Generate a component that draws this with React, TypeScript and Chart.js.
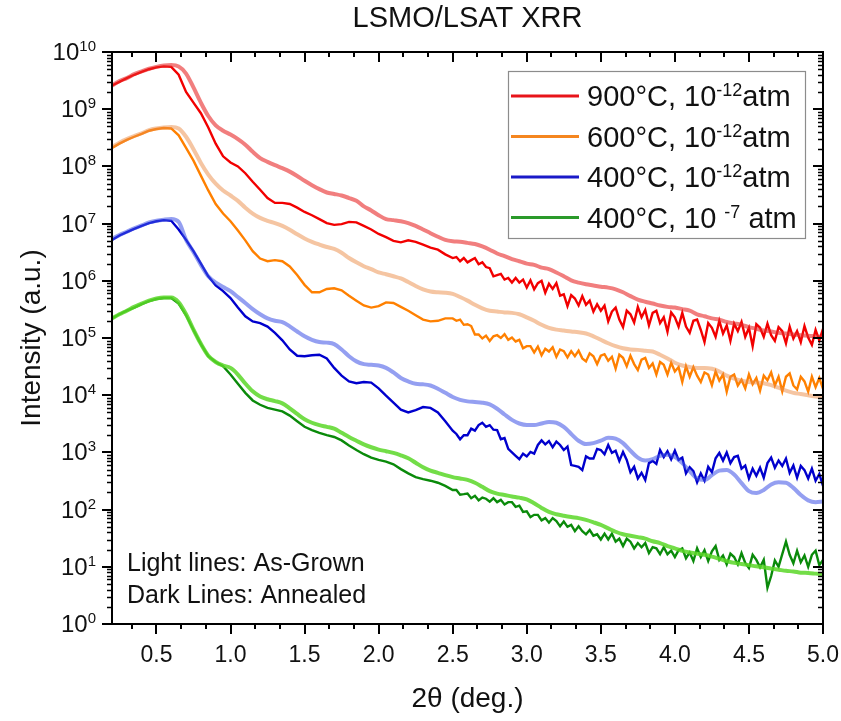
import React, { useEffect, useRef } from "react";
import { Chart, registerables } from "chart.js";

Chart.register(...registerables);

// ---------- DATA ----------
// 2θ (deg.) sampling of the as-grown (light) curves
const THETA_AG = [
  0.2, 0.25, 0.3, 0.35, 0.4, 0.45, 0.5, 0.55, 0.6, 0.65,
  0.7, 0.75, 0.8, 0.85, 0.9, 0.95, 1.0, 1.05, 1.1, 1.15,
  1.2, 1.25, 1.3, 1.35, 1.4, 1.45, 1.5, 1.55, 1.6, 1.65,
  1.7, 1.75, 1.8, 1.85, 1.9, 1.95, 2.0, 2.05, 2.1, 2.15,
  2.2, 2.25, 2.3, 2.35, 2.4, 2.45, 2.5, 2.55, 2.6, 2.65,
  2.7, 2.75, 2.8, 2.85, 2.9, 2.95, 3.0, 3.05, 3.1, 3.15,
  3.2, 3.25, 3.3, 3.35, 3.4, 3.45, 3.5, 3.55, 3.6, 3.65,
  3.7, 3.75, 3.8, 3.85, 3.9, 3.95, 4.0, 4.05, 4.1, 4.15,
  4.2, 4.25, 4.3, 4.35, 4.4, 4.45, 4.5, 4.55, 4.6, 4.65,
  4.7, 4.75, 4.8, 4.85, 4.9, 4.95, 5.0,
];

// 2θ (deg.) sampling of the annealed (dark) curves
const THETA_AN = [
  0.2, 0.25, 0.3, 0.35, 0.4, 0.45, 0.5, 0.55, 0.6, 0.65,
  0.7, 0.75, 0.8, 0.85, 0.9, 0.95, 1.0, 1.05, 1.1, 1.15,
  1.2, 1.25, 1.3, 1.35, 1.4, 1.45, 1.5, 1.55, 1.6, 1.65,
  1.7, 1.75, 1.8, 1.85, 1.9, 1.95, 2.0, 2.05, 2.1, 2.15,
  2.2, 2.25, 2.3, 2.35, 2.4, 2.45, 2.5,
  2.525, 2.55, 2.575, 2.6, 2.625, 2.65, 2.675, 2.7, 2.725, 2.75,
  2.775, 2.8, 2.825, 2.85, 2.875, 2.9, 2.925, 2.95, 2.975, 3.0,
  3.025, 3.05, 3.075, 3.1, 3.125, 3.15, 3.175, 3.2, 3.225, 3.25,
  3.275, 3.3, 3.325, 3.35, 3.375, 3.4, 3.425, 3.45, 3.475, 3.5,
  3.525, 3.55, 3.575, 3.6, 3.625, 3.65, 3.675, 3.7, 3.725, 3.75,
  3.775, 3.8, 3.825, 3.85, 3.875, 3.9, 3.925, 3.95, 3.975, 4.0,
  4.025, 4.05, 4.075, 4.1, 4.125, 4.15, 4.175, 4.2, 4.225, 4.25,
  4.275, 4.3, 4.325, 4.35, 4.375, 4.4, 4.425, 4.45, 4.475, 4.5,
  4.525, 4.55, 4.575, 4.6, 4.625, 4.65, 4.675, 4.7, 4.725, 4.75,
  4.775, 4.8, 4.825, 4.85, 4.875, 4.9, 4.925, 4.95, 4.975, 5.0,
];

// As-grown (light lines)
const AG_900C_12 = [
  2.6e9, 3.1e9, 3.5e9, 4.1e9, 4.6e9, 5.1e9, 5.5e9, 5.8e9, 5.9e9, 5.6e9,
  4.2e9, 2.4e9, 1.3e9, 7.6e8, 5.2e8, 4.2e8, 3.6e8, 3.0e8, 2.4e8, 1.8e8,
  1.4e8, 1.2e8, 1.05e8, 9.3e7, 8.1e7, 6.8e7, 5.6e7, 4.7e7, 4.0e7, 3.5e7,
  3.3e7, 3.1e7, 2.8e7, 2.5e7, 2.0e7, 1.7e7, 1.4e7, 1.2e7, 1.15e7, 1.1e7,
  1.02e7, 9.1e6, 7.9e6, 6.8e6, 5.9e6, 5.2e6, 4.9e6, 4.8e6, 4.6e6, 4.4e6,
  4.0e6, 3.5e6, 3.0e6, 2.7e6, 2.4e6, 2.2e6, 2.0e6, 1.9e6, 1.7e6, 1.6e6,
  1.4e6, 1.2e6, 1.02e6, 9.3e5, 8.7e5, 8.3e5, 7.9e5, 7.6e5, 7.1e5, 6.3e5,
  5.4e5, 4.7e5, 4.3e5, 4.0e5, 3.7e5, 3.5e5, 3.4e5, 3.2e5, 3.0e5, 2.6e5,
  2.4e5, 2.2e5, 2.1e5, 1.9e5, 1.8e5, 1.7e5, 1.55e5, 1.45e5, 1.35e5, 1.3e5,
  1.23e5, 1.2e5, 1.15e5, 1.12e5, 1.1e5, 1.07e5, 1.05e5,
];
const AG_600C_12 = [
  2.2e8, 2.6e8, 3.0e8, 3.4e8, 3.8e8, 4.3e8, 4.6e8, 4.8e8, 4.9e8, 4.6e8,
  3.3e8, 2.0e8, 1.15e8, 7.2e7, 5.0e7, 3.8e7, 3.1e7, 2.5e7, 1.9e7, 1.5e7,
  1.26e7, 1.12e7, 1.02e7, 9.1e6, 7.8e6, 6.5e6, 5.5e6, 4.8e6, 4.3e6, 3.9e6,
  3.6e6, 3.1e6, 2.5e6, 2.1e6, 1.8e6, 1.6e6, 1.4e6, 1.3e6, 1.2e6, 1.1e6,
  9.5e5, 8.1e5, 7.1e5, 6.5e5, 6.3e5, 6.2e5, 5.9e5, 5.2e5, 4.5e5, 3.8e5,
  3.3e5, 3.0e5, 2.9e5, 2.8e5, 2.75e5, 2.6e5, 2.3e5, 2.0e5, 1.7e5, 1.5e5,
  1.4e5, 1.35e5, 1.3e5, 1.26e5, 1.2e5, 1.07e5, 9.3e4, 8.1e4, 7.2e4, 6.6e4,
  6.3e4, 6.2e4, 6.0e4, 5.8e4, 5.1e4, 4.4e4, 3.7e4, 3.3e4, 3.1e4, 3.0e4,
  3.0e4, 2.9e4, 2.6e4, 2.2e4, 1.95e4, 1.8e4, 1.7e4, 1.66e4, 1.62e4, 1.5e4,
  1.35e4, 1.2e4, 1.1e4, 1.05e4, 1.0e4, 9.5e3, 9.3e3,
];
const AG_400C_12 = [
  5.4e6, 6.3e6, 7.2e6, 8.3e6, 9.3e6, 1.05e7, 1.12e7, 1.17e7, 1.2e7, 1.07e7,
  5.2e6, 3.2e6, 1.9e6, 1.2e6, 9.3e5, 7.8e5, 6.6e5, 5.2e5, 4.1e5, 3.2e5,
  2.6e5, 2.2e5, 2.0e5, 1.9e5, 1.6e5, 1.3e5, 1.07e5, 9.3e4, 8.5e4, 8.3e4,
  7.8e4, 6.3e4, 4.8e4, 3.9e4, 3.5e4, 3.4e4, 3.3e4, 3.0e4, 2.5e4, 2.0e4,
  1.74e4, 1.58e4, 1.55e4, 1.48e4, 1.3e4, 1.1e4, 9.3e3, 8.3e3, 7.8e3, 7.6e3,
  7.4e3, 6.9e3, 5.8e3, 4.6e3, 3.7e3, 3.2e3, 3.0e3, 3.0e3, 3.2e3, 3.4e3,
  3.3e3, 2.8e3, 2.1e3, 1.6e3, 1.4e3, 1.45e3, 1.6e3, 1.8e3, 1.74e3, 1.45e3,
  1.07e3, 8.1e2, 7.2e2, 7.6e2, 8.7e2, 9.1e2, 8.3e2, 6.5e2, 4.7e2, 3.5e2,
  3.3e2, 4.0e2, 4.8e2, 4.9e2, 4.1e2, 2.9e2, 2.1e2, 1.95e2, 2.2e2, 2.75e2,
  3.0e2, 2.95e2, 2.4e2, 1.8e2, 1.45e2, 1.35e2, 1.38e2,
];
const AG_400C_7 = [
  2.2e5, 2.6e5, 3.0e5, 3.5e5, 4.0e5, 4.5e5, 4.9e5, 5.1e5, 5.1e5, 4.2e5,
  2.6e5, 1.4e5, 7.9e4, 4.9e4, 3.8e4, 3.3e4, 3.0e4, 2.3e4, 1.6e4, 1.17e4,
  9.5e3, 8.5e3, 7.9e3, 7.2e3, 5.9e3, 4.7e3, 3.8e3, 3.3e3, 3.0e3, 2.8e3,
  2.6e3, 2.2e3, 1.86e3, 1.6e3, 1.38e3, 1.23e3, 1.12e3, 1.05e3, 9.8e2, 8.9e2,
  7.9e2, 6.6e2, 5.5e2, 4.8e2, 4.4e2, 4.0e2, 3.7e2, 3.5e2, 3.3e2, 2.95e2,
  2.5e2, 2.1e2, 1.9e2, 1.8e2, 1.7e2, 1.62e2, 1.51e2, 1.29e2, 1.07e2, 9.1e1,
  8.3e1, 7.8e1, 7.4e1, 7.1e1, 6.6e1, 6.0e1, 5.4e1, 4.7e1, 4.1e1, 3.7e1,
  3.5e1, 3.3e1, 3.1e1, 2.8e1, 2.6e1, 2.3e1, 2.1e1, 1.9e1, 1.78e1, 1.7e1,
  1.62e1, 1.51e1, 1.38e1, 1.26e1, 1.17e1, 1.12e1, 1.07e1, 1.02e1, 9.8, 9.3,
  8.9, 8.5, 8.3, 7.9, 7.8, 7.6, 7.4,
];

// Annealed (dark lines)
const AN_900C_12 = [
  2.6e9, 3.0e9, 3.5e9, 4.0e9, 4.5e9, 5.0e9, 5.4e9, 5.6e9, 5.5e9, 4.0e9,
  2.0e9, 1.3e9, 8.5e8, 4.8e8, 2.5e8, 1.5e8, 1.17e8, 1.0e8, 7.6e7, 5.4e7,
  3.9e7, 2.8e7, 2.3e7, 2.3e7, 2.2e7, 1.9e7, 1.6e7, 1.4e7, 1.2e7, 1.02e7,
  9.5e6, 9.8e6, 1.07e7, 1.05e7, 9.1e6, 7.9e6, 6.6e6, 5.8e6, 5.0e6, 4.7e6,
  5.1e6, 4.8e6, 4.3e6, 3.8e6, 3.5e6, 2.9e6, 2.5e6,
  2.6e6, 2.2e6, 2.5e6, 2.1e6, 2.3e6, 2.5e6, 1.95e6, 2.1e6, 1.74e6, 1.66e6,
  1.2e6, 1.26e6, 1.32e6, 1.05e6, 1.12e6, 9.3e5, 1.12e6, 9.3e5, 1.05e6, 7.6e5,
  1.02e6, 7.1e5, 9.1e5, 1.0e6, 6.2e5, 8.9e5, 7.2e5, 9.1e5, 5.5e5, 5.8e5,
  3.6e5, 5.6e5, 4.9e5, 3.7e5, 5.4e5, 3.8e5, 4.5e5, 2.9e5, 3.9e5, 3.0e5,
  3.7e5, 1.95e5, 2.9e5, 3.4e5, 2.1e5, 1.55e5, 3.0e5, 2.6e5, 1.86e5, 3.5e5,
  2.3e5, 3.1e5, 1.66e5, 2.75e5, 3.0e5, 1.82e5, 2.3e5, 1.29e5, 2.8e5, 2.3e5,
  1.58e5, 2.75e5, 1.58e5, 1.23e5, 2.0e5, 2.1e5, 1.38e5, 8.5e4, 1.82e5, 1.51e5,
  1.05e5, 2.0e5, 1.2e5, 1.66e5, 8.9e4, 1.78e5, 1.32e5, 1.91e5, 1.05e5, 1.51e5,
  7.2e4, 1.74e5, 1.51e5, 1.05e5, 1.78e5, 1.12e5, 8.9e4, 1.55e5, 1.32e5, 8.1e4,
  1.58e5, 9.8e4, 1.32e5, 8.5e4, 1.62e5, 1.02e5, 7.6e4, 1.38e5, 9.1e4, 1.45e5,
];
const AN_600C_12 = [
  2.1e8, 2.5e8, 2.9e8, 3.3e8, 3.7e8, 4.2e8, 4.5e8, 4.7e8, 4.6e8, 3.5e8,
  2.1e8, 1.26e8, 6.9e7, 3.8e7, 2.2e7, 1.5e7, 1.1e7, 7.6e6, 5.1e6, 3.3e6,
  2.45e6, 2.2e6, 2.3e6, 2.2e6, 1.78e6, 1.26e6, 8.5e5, 6.3e5, 6.3e5, 7.2e5,
  7.4e5, 6.8e5, 5.5e5, 4.5e5, 3.7e5, 3.4e5, 3.6e5, 4.2e5, 4.1e5, 3.5e5,
  3.0e5, 2.5e5, 2.1e5, 1.95e5, 2.0e5, 2.2e5, 2.2e5,
  2.0e5, 2.1e5, 1.7e5, 1.74e5, 1.62e5, 1.15e5, 1.15e5, 9.8e4, 1.1e5, 8.9e4,
  1.07e5, 1.12e5, 1.0e5, 1.17e5, 9.3e4, 1.02e5, 8.7e4, 9.3e4, 6.6e4, 7.2e4,
  7.2e4, 5.6e4, 7.1e4, 5.0e4, 6.5e4, 5.8e4, 6.9e4, 4.7e4, 6.3e4, 5.9e4,
  4.6e4, 5.9e4, 4.8e4, 6.0e4, 4.4e4, 3.9e4, 5.4e4, 4.8e4, 3.5e4, 4.9e4,
  5.2e4, 4.0e4, 4.7e4, 2.9e4, 5.1e4, 4.5e4, 3.2e4, 4.9e4, 3.5e4, 2.75e4,
  4.2e4, 4.5e4, 3.0e4, 3.6e4, 2.3e4, 3.8e4, 3.4e4, 2.3e4, 3.7e4, 2.6e4,
  3.1e4, 1.7e4, 3.2e4, 2.1e4, 3.1e4, 2.2e4, 1.7e4, 2.5e4, 2.3e4, 1.5e4,
  2.6e4, 1.8e4, 2.3e4, 1.15e4, 2.1e4, 2.3e4, 1.48e4, 1.86e4, 1.32e4, 2.3e4,
  1.55e4, 2.0e4, 1.2e4, 2.2e4, 1.82e4, 2.5e4, 1.48e4, 2.1e4, 1.17e4, 2.1e4,
  2.4e4, 1.48e4, 1.26e4, 2.1e4, 1.74e4, 1.15e4, 2.1e4, 1.38e4, 2.0e4, 1.29e4,
];
const AN_400C_12 = [
  5.2e6, 6.2e6, 7.1e6, 8.1e6, 9.1e6, 1.02e7, 1.1e7, 1.15e7, 1.12e7, 7.9e6,
  5.2e6, 3.3e6, 2.0e6, 1.2e6, 8.3e5, 6.6e5, 5.0e5, 3.4e5, 2.4e5, 1.95e5,
  1.82e5, 1.58e5, 1.23e5, 9.1e4, 6.3e4, 4.9e4, 4.8e4, 5.0e4, 5.1e4, 4.4e4,
  3.0e4, 2.2e4, 1.74e4, 1.62e4, 1.7e4, 1.66e4, 1.32e4, 9.8e3, 7.4e3, 5.6e3,
  5.0e3, 5.5e3, 6.2e3, 6.0e3, 5.0e3, 3.5e3, 2.4e3,
  2.1e3, 1.7e3, 2.0e3, 2.0e3, 2.6e3, 2.4e3, 3.0e3, 3.3e3, 2.8e3, 3.0e3,
  2.5e3, 2.45e3, 1.7e3, 1.78e3, 1.15e3, 1.0e3, 8.7e2, 7.6e2, 9.5e2, 8.5e2,
  1.02e3, 9.5e2, 1.35e3, 1.62e3, 1.38e3, 1.58e3, 1.23e3, 1.55e3, 1.35e3, 1.1e3,
  1.26e3, 6.0e2, 5.8e2, 5.6e2, 4.9e2, 8.5e2, 7.8e2, 7.8e2, 1.15e3, 1.1e3,
  9.3e2, 1.35e3, 9.8e2, 1.07e3, 7.1e2, 1.02e3, 7.4e2, 4.5e2, 5.6e2, 3.5e2,
  4.4e2, 3.3e2, 6.5e2, 7.1e2, 6.3e2, 1.1e3, 8.3e2, 1.05e3, 7.6e2, 1.07e3,
  7.4e2, 8.1e2, 4.3e2, 5.5e2, 4.7e2, 3.0e2, 4.3e2, 3.2e2, 5.6e2, 4.5e2,
  7.9e2, 9.8e2, 7.2e2, 1.0e3, 6.5e2, 8.3e2, 8.7e2, 5.2e2, 5.9e2, 3.5e2,
  5.2e2, 3.9e2, 5.4e2, 3.6e2, 6.5e2, 8.1e2, 5.4e2, 7.2e2, 5.8e2, 7.8e2,
  4.4e2, 5.9e2, 3.6e2, 5.8e2, 4.9e2, 3.5e2, 5.2e2, 3.2e2, 4.2e2, 2.6e2,
];
const AN_400C_7 = [
  2.2e5, 2.6e5, 3.0e5, 3.4e5, 3.9e5, 4.4e5, 4.8e5, 5.0e5, 5.0e5, 4.0e5,
  2.5e5, 1.38e5, 7.8e4, 4.8e4, 3.8e4, 3.2e4, 2.3e4, 1.58e4, 1.1e4, 8.1e3,
  6.8e3, 6.0e3, 5.6e3, 5.2e3, 4.4e3, 3.5e3, 2.8e3, 2.45e3, 2.2e3, 2.0e3,
  1.86e3, 1.62e3, 1.32e3, 1.1e3, 9.3e2, 8.1e2, 7.4e2, 6.9e2, 6.2e2, 5.1e2,
  4.3e2, 3.7e2, 3.4e2, 3.2e2, 2.95e2, 2.6e2, 2.2e2,
  2.2e2, 1.82e2, 1.86e2, 1.91e2, 1.58e2, 1.74e2, 1.45e2, 1.62e2, 1.55e2, 1.38e2,
  1.58e2, 1.35e2, 1.48e2, 1.23e2, 1.35e2, 1.35e2, 1.12e2, 1.17e2, 9.1e1, 9.3e1,
  7.4e1, 8.1e1, 8.1e1, 6.5e1, 7.1e1, 5.9e1, 7.1e1, 6.3e1, 5.1e1, 6.2e1,
  5.0e1, 5.4e1, 4.2e1, 5.1e1, 4.2e1, 3.7e1, 4.4e1, 3.5e1, 3.7e1, 3.0e1,
  3.8e1, 3.0e1, 3.8e1, 2.75e1, 3.1e1, 2.3e1, 3.1e1, 2.75e1, 2.1e1, 2.6e1,
  2.2e1, 2.6e1, 1.74e1, 2.2e1, 2.1e1, 1.66e1, 2.2e1, 1.66e1, 1.91e1, 1.48e1,
  1.95e1, 2.1e1, 1.41e1, 1.78e1, 1.26e1, 2.1e1, 1.48e1, 1.95e1, 1.26e1, 1.86e1,
  2.3e1, 1.32e1, 1.58e1, 1.1e1, 1.7e1, 1.48e1, 1.1e1, 1.74e1, 1.17e1, 9.5,
  1.62e1, 1.32e1, 9.8, 1.32e1, 4.3, 6.9, 1.29e1, 1.0e1, 1.66e1, 2.75e1,
  1.62e1, 1.15e1, 1.91e1, 1.2e1, 1.58e1, 1.0e1, 1.62e1, 1.91e1, 1.07e1, 1.32e1,
];

// Legend labels (base text, superscript, tail)
const LEGEND_BASE = ["900°C, 10", "600°C, 10", "400°C, 10", "400°C, 10 "];
const LEGEND_SUP = ["-12", "-12", "-12", "-7"];
const LEGEND_TAIL = ["atm", "atm", "atm", " atm"];

const X_TICK_VALUES = [0.5, 1.0, 1.5, 2.0, 2.5, 3.0, 3.5, 4.0, 4.5, 5.0];
const X_TICK_LABELS = ["0.5", "1.0", "1.5", "2.0", "2.5", "3.0", "3.5", "4.0", "4.5", "5.0"];
const Y_TICK_EXPONENTS = ["0", "1", "2", "3", "4", "5", "6", "7", "8", "9", "10"];

const TITLE = "LSMO/LSAT XRR";
const X_TITLE = "2θ (deg.)";
const Y_TITLE = "Intensity (a.u.)";
const NOTE_LINES = ["Light lines: As-Grown", "Dark Lines: Annealed"];

// ---------- STYLE ----------
const FONT = '"Liberation Sans", Arial, Helvetica, sans-serif';
const TEXT = "#111111";
const DARK = ["#f20000", "#ff8000", "#0000cd", "#0a8a0a"];
const LEGEND_COLORS = ["#e8141a", "#f5861f", "#1a1ac8", "#2a9a2a"];
const LIGHT = [
  "rgba(232,40,40,0.6)",
  "rgba(235,140,70,0.5)",
  "rgba(60,80,230,0.55)",
  "rgba(90,215,40,0.85)",
];

type Part = { t: string; size: number; dy?: number };

function drawRich(ctx: CanvasRenderingContext2D, parts: Part[], x: number, y: number, align: "left" | "right" | "center") {
  let total = 0;
  const widths: number[] = [];
  for (const p of parts) {
    ctx.font = `${p.size}px ${FONT}`;
    const w = ctx.measureText(p.t).width;
    widths.push(w);
    total += w;
  }
  let cx = align === "right" ? x - total : align === "center" ? x - total / 2 : x;
  ctx.textAlign = "left";
  ctx.textBaseline = "alphabetic";
  parts.forEach((p, i) => {
    ctx.font = `${p.size}px ${FONT}`;
    ctx.fillText(p.t, cx, y - (p.dy || 0));
    cx += widths[i];
  });
}

const decorPlugin = {
  id: "decor",
  afterDraw(chart: any) {
    const ctx: CanvasRenderingContext2D = chart.ctx;
    const a = chart.chartArea;
    const xs = chart.scales.x;
    const ys = chart.scales.y;
    ctx.save();

    // frame
    ctx.strokeStyle = "#000";
    ctx.lineWidth = 2;
    ctx.strokeRect(a.left, a.top, a.right - a.left, a.bottom - a.top);

    const drawV = (px: number, y0: number, y1: number) => {
      ctx.beginPath();
      ctx.moveTo(px, y0);
      ctx.lineTo(px, y1);
      ctx.stroke();
    };
    const drawH = (py: number, x0: number, x1: number) => {
      ctx.beginPath();
      ctx.moveTo(x0, py);
      ctx.lineTo(x1, py);
      ctx.stroke();
    };
    // x ticks (bottom outward, top inward), minor ticks every 1/6 deg
    ctx.lineWidth = 2;
    for (let k = 2; k <= 30; k++) {
      const v = k / 6;
      const px = Math.round(xs.getPixelForValue(v));
      const major = k % 3 === 0;
      const len = major ? 10 : 5;
      drawV(px, a.bottom, a.bottom + len);
      drawV(px, a.top, a.top + len);
    }
    // y ticks (left outward, right inward)
    for (let n = 0; n <= 10; n++) {
      const py = Math.round(ys.getPixelForValue(Math.pow(10, n)));
      ctx.lineWidth = 2;
      drawH(py, a.left - 10, a.left);
      drawH(py, a.right - 10, a.right);
      if (n < 10) {
        ctx.lineWidth = 1.5;
        for (let m = 2; m <= 9; m++) {
          const pm = Math.round(ys.getPixelForValue(m * Math.pow(10, n))) + 0.5;
          drawH(pm, a.left - 5, a.left);
          drawH(pm, a.right - 5, a.right);
        }
      }
    }

    ctx.fillStyle = TEXT;
    // x tick labels
    ctx.font = `23px ${FONT}`;
    ctx.textAlign = "center";
    ctx.textBaseline = "alphabetic";
    X_TICK_VALUES.forEach((v, i) => {
      ctx.fillText(X_TICK_LABELS[i], xs.getPixelForValue(v), a.bottom + 38);
    });
    // y tick labels
    Y_TICK_EXPONENTS.forEach((e, n) => {
      const py = ys.getPixelForValue(Math.pow(10, n));
      drawRich(ctx, [{ t: "10", size: 24 }, { t: e, size: 15, dy: 9 }], 96, py + 8, "right");
    });

    // title
    ctx.font = `29px ${FONT}`;
    ctx.textAlign = "center";
    ctx.fillText(TITLE, (a.left + a.right) / 2, 27);
    // x axis title
    ctx.font = `28px ${FONT}`;
    ctx.fillText(X_TITLE, (a.left + a.right) / 2, 707);
    // y axis title
    ctx.save();
    ctx.translate(40, (a.top + a.bottom) / 2);
    ctx.rotate(-Math.PI / 2);
    ctx.textAlign = "center";
    ctx.fillText(Y_TITLE, 0, 0);
    ctx.restore();

    // annotation
    ctx.font = `25px ${FONT}`;
    ctx.textAlign = "left";
    ctx.fillText(NOTE_LINES[0], 127, 571);
    ctx.fillText(NOTE_LINES[1], 127, 603);

    // legend
    const lx = 508, ly = 71, lw = 297, lh = 167;
    ctx.fillStyle = "#ffffff";
    ctx.fillRect(lx, ly, lw, lh);
    ctx.strokeStyle = "#8c8c8c";
    ctx.lineWidth = 1.2;
    ctx.strokeRect(lx + 0.5, ly + 0.5, lw, lh);
    LEGEND_BASE.forEach((base, i) => {
      const yy = 96 + i * 40.5;
      ctx.strokeStyle = LEGEND_COLORS[i];
      ctx.lineWidth = 3;
      ctx.beginPath();
      ctx.moveTo(511, yy);
      ctx.lineTo(579, yy);
      ctx.stroke();
      ctx.fillStyle = TEXT;
      drawRich(
        ctx,
        [
          { t: base, size: 29 },
          { t: LEGEND_SUP[i], size: 18, dy: 10 },
          { t: LEGEND_TAIL[i], size: 29 },
        ],
        587,
        yy + 10,
        "left"
      );
    });

    ctx.restore();
  },
};

function zip(xs: number[], ys: number[]) {
  return xs.map((x, i) => ({ x, y: ys[i] }));
}

export default function App() {
  const ref = useRef<HTMLCanvasElement | null>(null);
  useEffect(() => {
    if (!ref.current) return;
    const dark = [AN_900C_12, AN_600C_12, AN_400C_12, AN_400C_7];
    const light = [AG_900C_12, AG_600C_12, AG_400C_12, AG_400C_7];
    const names = ["900°C", "600°C", "400°C 1e-12", "400°C 1e-7"];
    const datasets: any[] = [];
    dark.forEach((d, i) => {
      datasets.push({
        label: names[i] + " annealed",
        data: zip(THETA_AN, d),
        borderColor: DARK[i],
        borderWidth: 2.4,
        pointRadius: 0,
        tension: 0,
        fill: false,
        order: 2,
      });
    });
    light.forEach((d, i) => {
      datasets.push({
        label: names[i] + " as-grown",
        data: zip(THETA_AG, d),
        borderColor: LIGHT[i],
        borderWidth: 4,
        pointRadius: 0,
        cubicInterpolationMode: "monotone",
        fill: false,
        order: 1,
      });
    });
    const chart = new Chart(ref.current, {
      type: "line",
      data: { datasets },
      options: {
        animation: false,
        responsive: false,
        devicePixelRatio: 1,
        layout: { padding: { left: 112, top: 52, right: 18, bottom: 97 } },
        scales: {
          x: { type: "linear", min: 0.2, max: 5.0, display: false },
          y: { type: "logarithmic", min: 1, max: 1e10, display: false },
        },
        plugins: {
          legend: { display: false },
          tooltip: { enabled: false },
          title: { display: false },
        },
        events: [],
      },
      plugins: [decorPlugin],
    });
    return () => chart.destroy();
  }, []);
  return (
    <div style={{ position: "absolute", left: 0, top: 0, width: 841, height: 721, background: "#fff" }}>
      <canvas ref={ref} width={841} height={721} style={{ display: "block", width: 841, height: 721 }} />
    </div>
  );
}
